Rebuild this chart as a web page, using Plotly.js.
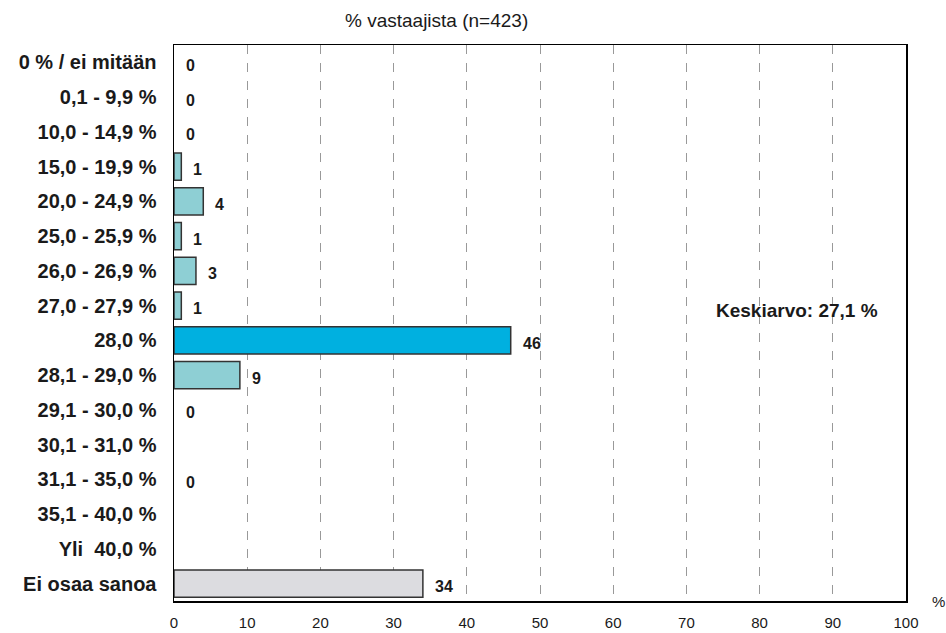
<!DOCTYPE html>
<html>
<head>
<meta charset="utf-8">
<script src="https://cdn.plot.ly/plotly-3.0.1.min.js"></script>
<style>html,body{margin:0;padding:0;background:#fff;}#chart{width:946px;height:633px;}</style>
</head>
<body>
<div id="chart"></div>
<script>
const categories = ["0 % / ei mitään","0,1 - 9,9 %","10,0 - 14,9 %","15,0 - 19,9 %","20,0 - 24,9 %","25,0 - 25,9 %","26,0 - 26,9 %","27,0 - 27,9 %","28,0 %","28,1 - 29,0 %","29,1 - 30,0 %","30,1 - 31,0 %","31,1 - 35,0 %","35,1 - 40,0 %","Yli  40,0 %","Ei osaa sanoa"];
const values = [0,0,0,1,4,1,3,1,46,9,0,null,0,null,null,34];
const barColors = ["#8ECFD4","#8ECFD4","#8ECFD4","#8ECFD4","#8ECFD4","#8ECFD4","#8ECFD4","#8ECFD4","#00B0E0","#8ECFD4","#8ECFD4","#8ECFD4","#8ECFD4","#8ECFD4","#8ECFD4","#DCDCE0"];
const xTicks = [0,10,20,30,40,50,60,70,80,90,100];
const titleText = "% vastaajista (n=423)";
const meanText = "Keskiarvo: 27,1 %";

const trace = {
  type: "bar",
  orientation: "h",
  y: categories,
  x: values,
  width: 0.78,
  marker: {color: barColors, line: {color: "#333333", width: values.map(v => (v ? 1.5 : 0))}},
  hoverinfo: "none"
};

const annotations = [];
categories.forEach((c, i) => {
  if (values[i] !== null) {
    annotations.push({
      x: values[i], y: c, xref: "x", yref: "y",
      text: "<b>" + values[i] + "</b>", showarrow: false,
      xanchor: "left", xshift: 10, yshift: -3,
      font: {family: "Liberation Sans, Arial", size: 16, color: "#1a1a1a"}
    });
  }
});
annotations.push({
  xref: "paper", yref: "paper", x: (436 - 174) / 732, y: 1, yshift: 25,
  xanchor: "center", yanchor: "middle",
  text: titleText, showarrow: false,
  font: {family: "Liberation Sans, Arial", size: 19, color: "#1a1a1a"}
});
annotations.push({
  xref: "x", yref: "y", x: 85.1, y: categories[7], text: "<b>" + meanText + "</b>", showarrow: false,
  xanchor: "center", yshift: -5,
  font: {family: "Liberation Sans, Arial", size: 19, color: "#1a1a1a"}
});
annotations.push({
  xref: "paper", yref: "paper", x: 1.044, y: 0, yshift: 0, text: "%", showarrow: false,
  xanchor: "center", yanchor: "middle",
  font: {family: "Liberation Sans, Arial", size: 15, color: "#1a1a1a"}
});

const layout = {
  width: 946, height: 633,
  margin: {l: 174, r: 40, t: 45, b: 32},
  paper_bgcolor: "#ffffff", plot_bgcolor: "#ffffff",
  showlegend: false,
  xaxis: {
    range: [0, 100], tickvals: xTicks, ticktext: xTicks.map(String),
    showgrid: true, gridcolor: "#999999", griddash: "dash", gridwidth: 1,
    zeroline: false, showline: true, linecolor: "#000000", linewidth: 1.5, mirror: true,
    ticks: "", ticklabelstandoff: 7,
    tickfont: {family: "Liberation Sans, Arial", size: 15, color: "#1a1a1a"}
  },
  yaxis: {
    type: "category", autorange: "reversed",
    showgrid: false, zeroline: false, showline: true, linecolor: "#000000", linewidth: 1.5, mirror: true,
    ticks: "", ticklabelstandoff: 12,
    tickfont: {family: "Liberation Sans, Arial", size: 20, color: "#1a1a1a", weight: "bold"}
  },
  annotations: annotations
};

Plotly.newPlot("chart", [trace], layout, {displayModeBar: false, staticPlot: true});
</script>
</body>
</html>
